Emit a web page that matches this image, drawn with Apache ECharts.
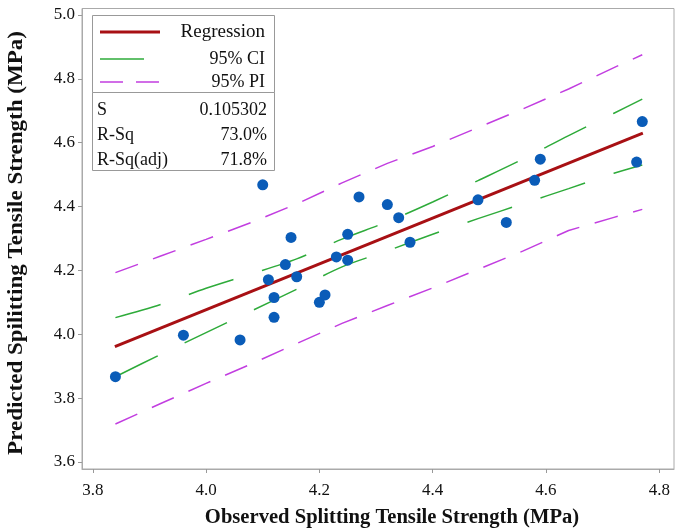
<!DOCTYPE html>
<html>
<head>
<meta charset="utf-8">
<script src="https://cdn.jsdelivr.net/npm/echarts@6/dist/echarts.min.js"></script>
<style>html,body{margin:0;padding:0;background:#fff}#c{width:684px;height:529px}</style>
</head>
<body>
<div id="c"></div>
<script>
// Observed vs predicted points
var obsX = [3.84,3.96,4.06,4.10,4.11,4.12,4.12,4.14,4.15,4.16,4.20,4.21,4.23,4.25,4.25,4.27,4.32,4.34,4.36,4.48,4.53,4.58,4.59,4.76,4.77];
var predY = [3.867,3.997,3.982,4.468,4.171,4.115,4.053,4.218,4.303,4.180,4.100,4.123,4.242,4.313,4.232,4.430,4.406,4.365,4.288,4.421,4.350,4.482,4.548,4.539,4.666];
// Fitted line
var regX = [3.839, 4.771];
var regY = [3.961, 4.630];
// Confidence / prediction bands
var bandX   = [3.84,3.92,4.00,4.08,4.16,4.24,4.32,4.40,4.48,4.56,4.64,4.72,4.77];
var ciUpper = [4.052,4.093,4.144,4.189,4.236,4.298,4.352,4.414,4.481,4.549,4.622,4.692,4.736];
var ciLower = [3.867,3.937,4.005,4.073,4.141,4.211,4.261,4.313,4.362,4.409,4.456,4.504,4.530];
var piUpper = [4.193,4.245,4.297,4.350,4.408,4.474,4.535,4.588,4.647,4.706,4.768,4.835,4.875];
var piLower = [3.719,3.783,3.846,3.907,3.971,4.034,4.090,4.145,4.203,4.261,4.325,4.366,4.391];
// Ticks
var xTicks = [3.8,4.0,4.2,4.4,4.6,4.8];
var yTicks = [3.6,3.8,4.0,4.2,4.4,4.6,4.8,5.0];
// Legend / stats text
var legendNames = ['Regression','95% CI','95% PI'];
var statNames = ['S','R-Sq','R-Sq(adj)'];
var statValues = ['0.105302','73.0%','71.8%'];

function pairs(xs, ys){ return xs.map(function(x,i){ return [x, ys[i]]; }); }

var FONT = '"Liberation Serif","Times New Roman",serif';
var RED = '#a81014', GREEN = '#2eab3a', PURPLE = '#c23ee0', BLUE = '#0a5cb8';

var chart = echarts.init(document.getElementById('c'), null, {renderer:'canvas'});

var graphics = [
  {type:'rect', shape:{x:92.5,y:15.5,width:182,height:77}, style:{fill:'#fff',stroke:'#999',lineWidth:1}, z:100},
  {type:'rect', shape:{x:92.5,y:92.5,width:182,height:78}, style:{fill:'#fff',stroke:'#999',lineWidth:1}, z:100},
  {type:'line', shape:{x1:100,y1:32,x2:160,y2:32}, style:{stroke:RED,lineWidth:3}, z:101},
  {type:'line', shape:{x1:100,y1:59,x2:144,y2:59}, style:{stroke:GREEN,lineWidth:1.5}, z:101},
  {type:'line', shape:{x1:100,y1:82,x2:160,y2:82}, style:{stroke:PURPLE,lineWidth:1.5,lineDash:[23,13]}, z:101}
];
var legendY = [32,59,82];
var legendSize = [19,18,18];
legendNames.forEach(function(n,i){
  graphics.push({type:'text', x:265, y:legendY[i], style:{text:n, fill:'#111', font:legendSize[i]+'px '+FONT, textAlign:'right', textVerticalAlign:'middle'}, z:101});
});
var statY = [110,135,160];
statNames.forEach(function(n,i){
  graphics.push({type:'text', x:97, y:statY[i], style:{text:n, fill:'#111', font:'18px '+FONT, textAlign:'left', textVerticalAlign:'middle'}, z:101});
  graphics.push({type:'text', x:267, y:statY[i], style:{text:statValues[i], fill:'#111', font:'18px '+FONT, textAlign:'right', textVerticalAlign:'middle'}, z:101});
});
graphics.push({type:'text', x:392, y:518, scaleX:1.03, style:{text:'Observed Splitting Tensile Strength (MPa)', fill:'#111', font:'bold 20px '+FONT, textAlign:'center', textVerticalAlign:'middle'}, z:101});
graphics.push({type:'text', x:17, y:243, rotation:Math.PI/2, scaleX:1.15, style:{text:'Predicted Spilitting Tensile Strength (MPa)', fill:'#111', font:'bold 20px '+FONT, textAlign:'center', textVerticalAlign:'middle'}, z:101});

var axisCommon = {
  type:'value',
  splitLine:{show:false},
  axisLine:{show:true, onZero:false, lineStyle:{color:'#aaa', width:1}},
  axisTick:{show:true, inside:false, length:4, lineStyle:{color:'#999'}},
  axisLabel:{color:'#111', fontFamily:FONT, fontSize:17, formatter:function(v){return v.toFixed(1);}}
};

chart.setOption({
  animation:false,
  backgroundColor:'#fff',
  grid:{left:82, top:8.5, right:10, bottom:60, show:true, borderColor:'#aaa', borderWidth:1, containLabel:false},
  xAxis: echarts.util.merge({
    min:3.781, max:4.826,
    axisTick:{customValues:xTicks},
    axisLabel:{customValues:xTicks, margin:13}
  }, axisCommon),
  yAxis: echarts.util.merge({
    min:3.578, max:5.02,
    axisTick:{customValues:yTicks},
    axisLabel:{customValues:yTicks, margin:7}
  }, axisCommon),
  graphic: graphics,
  series:[
    {type:'line', data:pairs(bandX,piUpper), showSymbol:false, symbol:'none', lineStyle:{color:PURPLE,width:1.5,type:[24,16]}, z:2},
    {type:'line', data:pairs(bandX,piLower), showSymbol:false, symbol:'none', lineStyle:{color:PURPLE,width:1.5,type:[24,16]}, z:2},
    {type:'line', data:pairs(bandX,ciUpper), showSymbol:false, symbol:'none', smooth:0.3, lineStyle:{color:GREEN,width:1.5,type:[47,30]}, z:3},
    {type:'line', data:pairs(bandX,ciLower), showSymbol:false, symbol:'none', smooth:0.3, lineStyle:{color:GREEN,width:1.5,type:[47,30]}, z:3},
    {type:'line', data:pairs(regX,regY), showSymbol:false, symbol:'none', lineStyle:{color:RED,width:3}, z:4},
    {type:'scatter', data:pairs(obsX,predY), symbol:'circle', symbolSize:11, itemStyle:{color:BLUE, opacity:1}, z:5}
  ]
});
</script>
</body>
</html>
